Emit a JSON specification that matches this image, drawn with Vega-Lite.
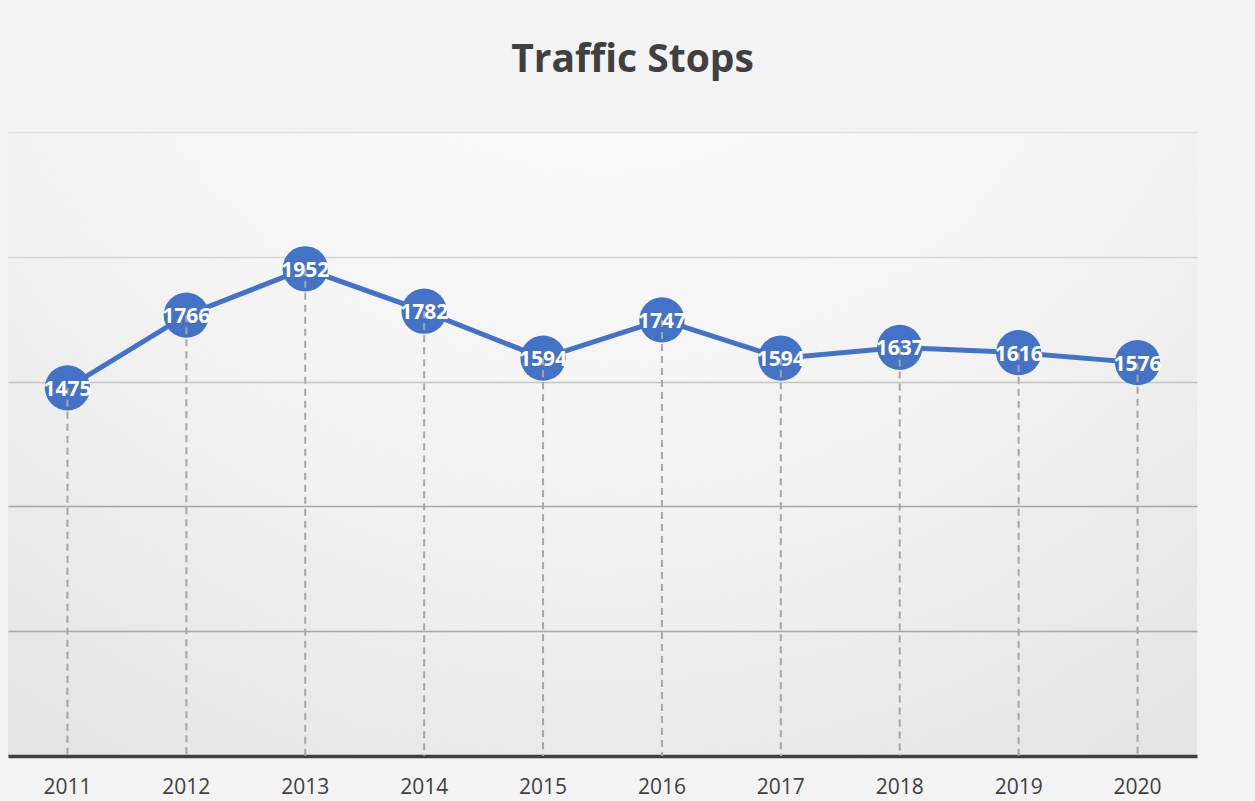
{
  "$schema": "https://vega.github.io/schema/vega-lite/v6.json",
  "width": 1189,
  "height": 624,
  "autosize": {"type": "none"},
  "padding": {"left": 8, "top": 132, "right": 58, "bottom": 45},
  "background": "#f3f3f3",
  "title": {
    "text": "Traffic Stops",
    "font": "Open Sans",
    "fontSize": 39,
    "fontWeight": "bold",
    "color": "#404040",
    "anchor": "middle",
    "dx": 30,
    "offset": 52
  },
  "config": {
    "view": {
      "stroke": null,
      "fill": {
        "gradient": "radial",
        "x1": 0.5, "y1": 0, "r1": 0,
        "x2": 0.5, "y2": 0, "r2": 1.1,
        "stops": [
          {"offset": 0, "color": "#ffffff"},
          {"offset": 0.5, "color": "#f2f2f2"},
          {"offset": 1, "color": "#dcdcdc"}
        ]
      }
    }
  },
  "data": {
    "values": [
      {"year": "2011", "stops": 1475},
      {"year": "2012", "stops": 1766},
      {"year": "2013", "stops": 1952},
      {"year": "2014", "stops": 1782},
      {"year": "2015", "stops": 1594},
      {"year": "2016", "stops": 1747},
      {"year": "2017", "stops": 1594},
      {"year": "2018", "stops": 1637},
      {"year": "2019", "stops": 1616},
      {"year": "2020", "stops": 1576}
    ]
  },
  "encoding": {
    "x": {
      "field": "year",
      "type": "ordinal",
      "scale": {"paddingInner": 0, "paddingOuter": 0},
      "axis": {
        "title": null,
        "labelAngle": 0,
        "labelFont": "Open Sans",
        "labelFontSize": 21,
        "labelColor": "#404040",
        "labelPadding": 20,
        "ticks": false,
        "domainColor": "#404040",
        "domainWidth": 3.5,
        "grid": false
      }
    },
    "y": {
      "field": "stops",
      "type": "quantitative",
      "scale": {"domain": [0, 2500], "nice": false},
      "axis": {
        "title": null,
        "labels": false,
        "ticks": false,
        "domain": false,
        "values": [500, 1000, 1500, 2000, 2500],
        "grid": true,
        "gridColor": {
          "condition": [
            {"test": "datum.value >= 2500", "value": "#e0e0e0"},
            {"test": "datum.value >= 2000", "value": "#d6d6d6"},
            {"test": "datum.value >= 1500", "value": "#c4c4c4"}
          ],
          "value": "#a8a8a8"
        },
        "gridWidth": 1.5
      }
    }
  },
  "layer": [
    {
      "mark": {"type": "line", "color": "#4472c4", "strokeWidth": 5}
    },
    {
      "mark": {"type": "circle", "color": "#4472c4", "opacity": 1, "size": 2050}
    },
    {
      "mark": {"type": "rule", "color": "#a6a6a6", "strokeWidth": 2, "strokeDash": [7, 5]},
      "encoding": {"y2": {"datum": 0}}
    },
    {
      "mark": {
        "type": "text",
        "color": "#ffffff",
        "font": "Open Sans",
        "fontWeight": "bold",
        "fontSize": 21,
        "baseline": "middle",
        "align": "center",
        "dy": 2
      },
      "encoding": {"text": {"field": "stops", "type": "quantitative"}}
    }
  ]
}
